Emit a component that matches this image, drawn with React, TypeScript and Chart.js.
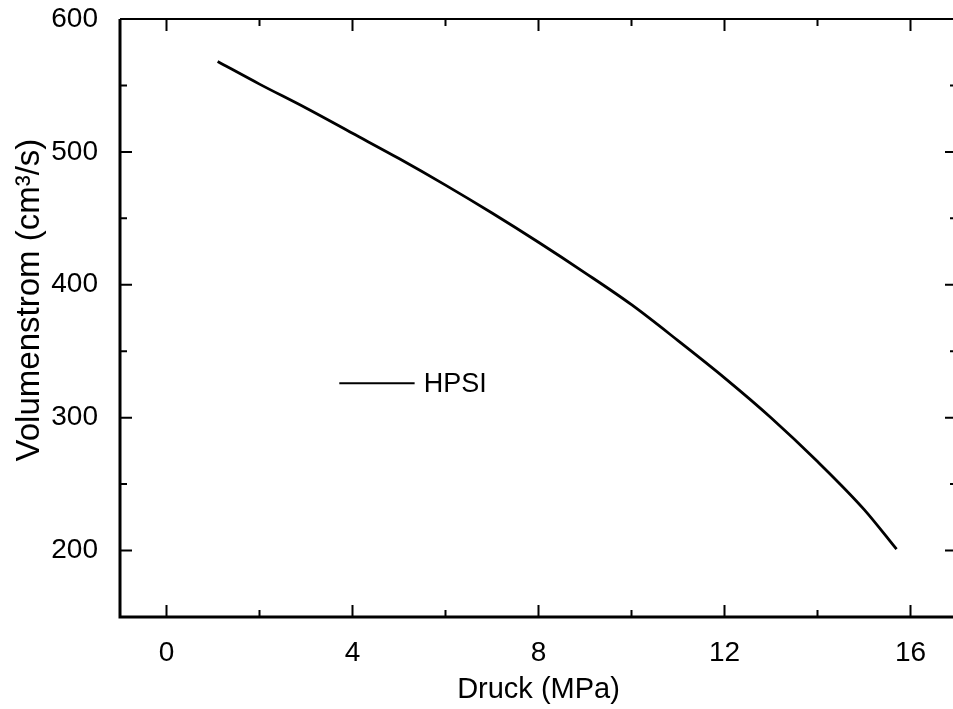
import React, { useEffect, useRef } from "react";
import { Chart, registerables } from "chart.js";

Chart.register(...registerables);

const pressure = [1.1, 2, 3, 4, 5, 6, 7, 8, 9, 10, 11, 12, 13, 14, 15, 15.7];
const flow = [568, 551, 533, 514, 495, 475, 454, 432, 409, 385, 358, 330, 300, 267, 231, 201];
const xMajorTicks = [0, 4, 8, 12, 16];
const xMinorTicks = [2, 6, 10, 14];
const yMajorTicks = [200, 300, 400, 500, 600];
const yMinorTicks = [250, 350, 450, 550];
const seriesName = "HPSI";
const xTitle = "Druck (MPa)";
const yTitle = "Volumenstrom (cm³/s)";

const FONT = "'Liberation Sans', Arial, Helvetica, sans-serif";
const CW = 970;
const CH = 709;

const framePlugin = {
  id: "frame",
  afterDraw(chart: any) {
    const { ctx, chartArea: a, scales } = chart;
    const xs = scales.x;
    const ys = scales.y;
    ctx.save();
    ctx.strokeStyle = "#000";
    ctx.lineCap = "butt";
    ctx.lineWidth = 3;
    ctx.beginPath();
    ctx.moveTo(a.left, a.top);
    ctx.lineTo(a.left, a.bottom);
    ctx.lineTo(a.right + 2, a.bottom);
    ctx.stroke();
    ctx.lineWidth = 2.2;
    ctx.beginPath();
    ctx.moveTo(a.left, a.top);
    ctx.lineTo(a.right + 2, a.top);
    ctx.stroke();
    ctx.lineWidth = 2;
    const major = 12;
    const minor = 7;
    const tickX = (v: number, len: number) => {
      const px = xs.getPixelForValue(v);
      ctx.beginPath();
      ctx.moveTo(px, a.bottom);
      ctx.lineTo(px, a.bottom - len);
      ctx.moveTo(px, a.top);
      ctx.lineTo(px, a.top + len);
      ctx.stroke();
    };
    const tickY = (v: number, len: number) => {
      const py = ys.getPixelForValue(v);
      ctx.beginPath();
      ctx.moveTo(a.left, py);
      ctx.lineTo(a.left + len, py);
      ctx.moveTo(a.right, py);
      ctx.lineTo(a.right - len, py);
      ctx.stroke();
    };
    xMajorTicks.forEach((v) => tickX(v, major));
    xMinorTicks.forEach((v) => tickX(v, minor));
    yMajorTicks.forEach((v) => tickY(v, major));
    yMinorTicks.forEach((v) => tickY(v, minor));

    const w = a.right - a.left;
    const h = a.bottom - a.top;
    const ly = a.top + h * 0.609;
    ctx.lineWidth = 2;
    ctx.beginPath();
    ctx.moveTo(a.left + w * 0.262, ly);
    ctx.lineTo(a.left + w * 0.352, ly);
    ctx.stroke();
    ctx.fillStyle = "#000";
    ctx.font = `27px ${FONT}`;
    ctx.textAlign = "left";
    ctx.textBaseline = "middle";
    ctx.fillText(seriesName, a.left + w * 0.363, ly + 1);

    ctx.textAlign = "center";
    ctx.font = `29px ${FONT}`;
    ctx.fillText(xTitle, xs.getPixelForValue(8), a.bottom + 73);
    ctx.save();
    ctx.translate(30, a.top + h * 0.47);
    ctx.rotate(-Math.PI / 2);
    ctx.font = `33px ${FONT}`;
    ctx.fillText(yTitle, 0, 0);
    ctx.restore();
    ctx.restore();
  },
};

export default function App() {
  const ref = useRef<HTMLCanvasElement | null>(null);
  useEffect(() => {
    if (!ref.current) return;
    const chart = new Chart(ref.current, {
      type: "line",
      data: {
        datasets: [
          {
            label: seriesName,
            data: pressure.map((x, i) => ({ x, y: flow[i] })),
            borderColor: "#000",
            borderWidth: 2.8,
            pointRadius: 0,
            fill: false,
            cubicInterpolationMode: "monotone",
          },
        ],
      },
      options: {
        animation: false,
        responsive: false,
        devicePixelRatio: 1,
        layout: { padding: { top: 19, right: CW - 957, left: 0, bottom: 0 } },
        plugins: { legend: { display: false }, tooltip: { enabled: false } },
        scales: {
          x: {
            type: "linear",
            min: -1,
            max: 17,
            grid: { display: false, drawTicks: false },
            border: { display: false },
            afterBuildTicks: (axis: any) => {
              axis.ticks = xMajorTicks.map((v) => ({ value: v }));
            },
            afterFit: (scale: any) => {
              scale.height = CH - 617;
              scale.paddingLeft = 0;
              scale.paddingRight = 0;
            },
            ticks: {
              color: "#000",
              font: { family: FONT, size: 28 },
              padding: 19,
              maxRotation: 0,
              autoSkip: false,
            },
          },
          y: {
            type: "linear",
            min: 150,
            max: 600,
            grid: { display: false, drawTicks: false },
            border: { display: false },
            afterBuildTicks: (axis: any) => {
              axis.ticks = yMajorTicks.map((v) => ({ value: v }));
            },
            afterFit: (scale: any) => {
              scale.width = 120;
              scale.paddingTop = 0;
              scale.paddingBottom = 0;
            },
            ticks: {
              color: "#000",
              font: { family: FONT, size: 28 },
              padding: 22,
              autoSkip: false,
            },
          },
        },
      },
      plugins: [framePlugin],
    } as any);
    return () => chart.destroy();
  }, []);
  return (
    <div
      style={{
        position: "fixed",
        left: 0,
        top: 0,
        width: 953,
        height: 709,
        overflow: "hidden",
        background: "#fff",
      }}
    >
      <canvas ref={ref} width={CW} height={CH} style={{ display: "block", width: CW, height: CH }} />
    </div>
  );
}
